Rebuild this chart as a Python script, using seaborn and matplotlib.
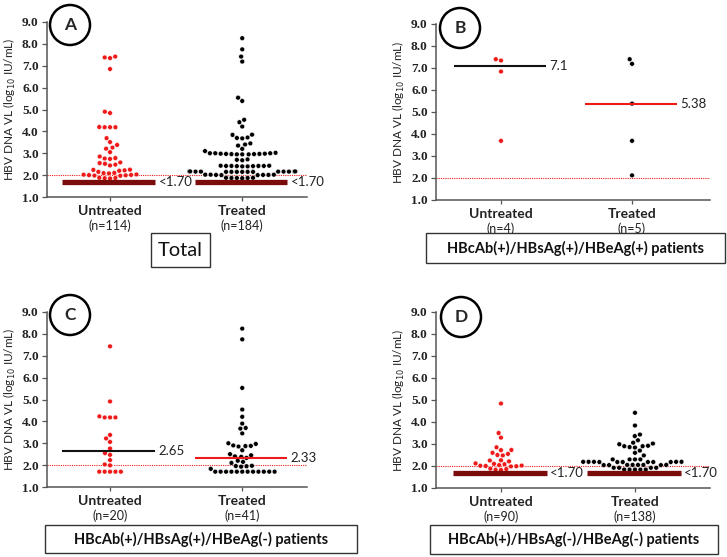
import pandas as pd
import matplotlib
matplotlib.use("Agg")
import matplotlib.pyplot as plt
from matplotlib.patches import Circle, Rectangle
import seaborn as sns

# Constants
GROUPS = ["Untreated", "Treated"]
LOD = 1.70
CUTOFF = 2.0
RED = "#ee1a1a"
MAROON = "#7a0c0c"
PALETTE = {"Untreated": RED, "Treated": "black"}
Y_TICKS = [1.0, 2.0, 3.0, 4.0, 5.0, 6.0, 7.0, 8.0, 9.0]
FIG_W, FIG_H, DPI = 727, 557, 100

# Panel A - total (values above the detection limit, plus count of <1.70)
a_untreated = [7.42, 7.38, 7.35, 6.85, 4.90, 4.84, 4.20, 4.19, 4.19, 4.19,
               3.69, 3.51, 3.38, 3.26, 3.21, 3.05, 2.85, 2.78, 2.76, 2.74,
               2.58, 2.55, 2.52, 2.48, 2.44, 2.25, 2.24, 2.22, 2.20, 2.15,
               2.10, 2.09, 2.08, 2.03, 2.02, 2.01, 2.00, 1.99, 1.98, 1.97,
               1.88, 1.87, 1.86, 1.85]
a_treated = [8.26, 7.75, 7.42, 7.19, 5.54, 5.39, 4.53, 4.42, 4.22, 3.85,
             3.84, 3.72, 3.70, 3.68, 3.45, 3.40, 3.35, 3.20, 3.10, 3.00,
             3.02, 3.00, 3.00, 2.98, 2.98, 2.97, 2.97, 2.96, 2.96, 2.95,
             2.95, 2.95, 2.72, 2.70, 2.68, 2.43, 2.43, 2.42, 2.42, 2.42,
             2.42, 2.41, 2.41, 2.40, 2.40, 2.17, 2.17, 2.17, 2.17, 2.17,
             2.16, 2.16, 2.16, 2.16, 2.16, 2.15, 2.15, 2.15, 2.15, 2.15,
             2.15, 2.02, 2.02, 2.02, 2.01, 2.01, 2.01, 2.00, 2.00, 1.88,
             1.88, 1.87, 1.87, 1.87, 1.86]
a_below_lod = [70, 109]
a_medians = [1.70, 1.70]
a_median_text = ["<1.70", "<1.70"]

# Panel B - HBcAb(+)/HBsAg(+)/HBeAg(+)
b_untreated = [7.40, 7.34, 6.84, 3.69]
b_treated = [7.40, 7.19, 5.38, 3.69, 2.12]
b_medians = [7.10, 5.38]
b_median_text = ["7.1", "5.38"]

# Panel C - HBcAb(+)/HBsAg(+)/HBeAg(-)
c_untreated = [7.43, 4.91, 4.23, 4.18, 4.18, 4.18, 3.38, 3.22, 3.06, 2.76,
               2.55, 2.47, 2.23, 2.03, 1.99, 1.70, 1.70, 1.70, 1.70, 1.70]
c_treated = [8.24, 7.75, 5.53, 4.54, 4.21, 3.90, 3.70, 3.67, 3.45, 3.00,
             2.97, 2.90, 2.88, 2.87, 2.85, 2.68, 2.50, 2.45, 2.40, 2.38,
             2.33, 2.20, 2.15, 2.10, 1.97, 1.96, 1.95, 1.93, 1.83, 1.70,
             1.70, 1.70, 1.70, 1.70, 1.70, 1.70, 1.70, 1.70, 1.70, 1.70,
             1.70]
c_medians = [2.65, 2.33]
c_median_text = ["2.65", "2.33"]

# Panel D - HBcAb(+)/HBsAg(-)/HBeAg(-)
d_untreated = [4.84, 3.50, 3.29, 2.85, 2.73, 2.72, 2.60, 2.55, 2.50, 2.48,
               2.26, 2.25, 2.21, 2.12, 2.10, 2.08, 2.04, 2.02, 2.01, 2.00,
               1.99, 1.98, 1.88, 1.86, 1.83, 1.82]
d_treated = [4.42, 3.84, 3.43, 3.36, 3.17, 3.06, 3.02, 2.99, 2.92, 2.90,
             2.90, 2.86, 2.84, 2.70, 2.60, 2.48, 2.30, 2.30, 2.30, 2.30,
             2.19, 2.19, 2.19, 2.19, 2.19, 2.18, 2.18, 2.18, 2.18, 2.18,
             2.18, 2.05, 2.05, 2.05, 2.05, 2.05, 2.04, 2.04, 2.04, 1.92,
             1.92, 1.92, 1.92, 1.84, 1.84, 1.84, 1.84, 1.84]
d_below_lod = [64, 90]
d_medians = [1.70, 1.70]
d_median_text = ["<1.70", "<1.70"]

sns.set_style("ticks")
plt.rcParams["font.family"] = ["Lato", "DejaVu Sans"]


def make_frame(untreated, treated, below=(0, 0)):
    rows = []
    for g, vals, nb in zip(GROUPS, (untreated, treated), below):
        rows += [(g, v, False) for v in vals]
        rows += [(g, LOD, True) for _ in range(nb)]
    return pd.DataFrame(rows, columns=["group", "value", "below_lod"])


def px_axes(fig, left, top, right, bottom):
    return fig.add_axes([left / FIG_W, 1 - bottom / FIG_H,
                         (right - left) / FIG_W, (bottom - top) / FIG_H])


def draw_panel(ax, df, medians, median_text, thick, xlim):
    shown = df[~df.below_lod]
    hidden = df[df.below_lod]
    ax.axhline(CUTOFF, color=RED, lw=0.8, ls=(0, (1, 1)), zorder=1)
    if len(hidden):
        sns.stripplot(data=hidden, x="group", y="value", hue="group",
                      order=GROUPS, hue_order=GROUPS, palette=PALETTE,
                      jitter=False, size=3.3, legend=False, ax=ax, zorder=2)
    sns.swarmplot(data=shown, x="group", y="value", hue="group",
                  order=GROUPS, hue_order=GROUPS, palette=PALETTE,
                  size=3.4, linewidth=0.3, edgecolor="white",
                  legend=False, warn_thresh=1, ax=ax, zorder=3)

    # median lines and their labels
    for i, (m, txt) in enumerate(zip(medians, median_text)):
        if thick:
            color, lw = MAROON, 3.8
        else:
            color, lw = ("#111111" if i == 0 else RED), 1.5
        ax.hlines(m, i - 0.36, i + 0.34, color=color, lw=lw, zorder=4)
        ax.annotate(txt, xy=(i + 0.34, m), xytext=(2.5, 0),
                    textcoords="offset points", ha="left", va="center",
                    fontsize=9.5, color="#222222")

    ax.set_ylim(1.0, 9.0)
    ax.set_xlim(*xlim)
    ax.set_yticks(Y_TICKS)
    ax.set_yticklabels([f"{v:.1f}" for v in Y_TICKS], fontfamily="Liberation Serif",
                       fontweight="bold", fontsize=9.5, color="#222222")
    ax.set_xticks([0, 1])
    ax.set_xticklabels(GROUPS, fontweight="bold", fontsize=10, color="#222222")
    ax.set_xlabel("")
    ax.set_ylabel("HBV DNA VL (log$_{10}$ IU/mL)", fontsize=8.5, labelpad=3,
                  color="#222222")
    ax.tick_params(axis="y", length=3.5, width=0.9, pad=2.5, color="#555555")
    ax.tick_params(axis="x", length=3, width=0.9, pad=2.5, color="#555555")
    for side in ("left", "bottom"):
        ax.spines[side].set_color("#555555")
        ax.spines[side].set_linewidth(1.1)
    sns.despine(ax=ax)

    counts = df.groupby("group").size()
    for i, g in enumerate(GROUPS):
        ax.annotate(f"(n={counts[g]})", xy=(i, 0), xycoords=ax.get_xaxis_transform(),
                    xytext=(0, -20.5), textcoords="offset points",
                    ha="center", va="center", fontsize=9, color="#222222")


def letter(fig, text, cx, cy):
    r = 20 / DPI
    fig.add_artist(Circle((cx / DPI, (FIG_H - cy) / DPI), r, transform=fig.dpi_scale_trans,
                          facecolor="white", edgecolor="black", lw=1.8, zorder=10))
    fig.text(cx / FIG_W, 1 - cy / FIG_H, text, ha="center", va="center",
             fontsize=12.5, fontweight="bold", zorder=11)


def caption(fig, text, left, top, right, bottom, **kw):
    fig.add_artist(Rectangle((left / DPI, (FIG_H - bottom) / DPI),
                             (right - left) / DPI, (bottom - top) / DPI,
                             transform=fig.dpi_scale_trans, facecolor="white",
                             edgecolor="#333333", lw=1.0))
    fig.text((left + right) / 2 / FIG_W, 1 - (top + bottom) / 2 / FIG_H, text,
             ha="center", va="center", color="#111111", **kw)


fig = plt.figure(figsize=(FIG_W / DPI, FIG_H / DPI), dpi=DPI)

ax_a = px_axes(fig, 47, 22, 307, 197)
draw_panel(ax_a, make_frame(a_untreated, a_treated, a_below_lod),
           a_medians, a_median_text, True, (-0.477, 1.49))
ax_b = px_axes(fig, 436, 24, 710, 200)
draw_panel(ax_b, make_frame(b_untreated, b_treated),
           b_medians, b_median_text, False, (-0.496, 1.595))
ax_c = px_axes(fig, 47, 312, 307, 487)
draw_panel(ax_c, make_frame(c_untreated, c_treated),
           c_medians, c_median_text, False, (-0.477, 1.49))
ax_d = px_axes(fig, 436, 312, 710, 488)
draw_panel(ax_d, make_frame(d_untreated, d_treated, d_below_lod),
           d_medians, d_median_text, True, (-0.485, 1.56))

letter(fig, "A", 70, 25)
letter(fig, "B", 460, 28)
letter(fig, "C", 70, 315)
letter(fig, "D", 461, 317)

caption(fig, "Total", 151, 233, 210, 267, fontsize=14.5)
caption(fig, "HBcAb(+)/HBsAg(+)/HBeAg(+) patients", 426, 233, 725, 263,
        fontsize=10.5, fontweight="bold")
caption(fig, "HBcAb(+)/HBsAg(+)/HBeAg(-) patients", 45, 525, 357, 553,
        fontsize=10.5, fontweight="bold")
caption(fig, "HBcAb(+)/HBsAg(-)/HBeAg(-) patients", 430, 525, 718, 554,
        fontsize=10.5, fontweight="bold")

fig.savefig("out.png", dpi=DPI)
